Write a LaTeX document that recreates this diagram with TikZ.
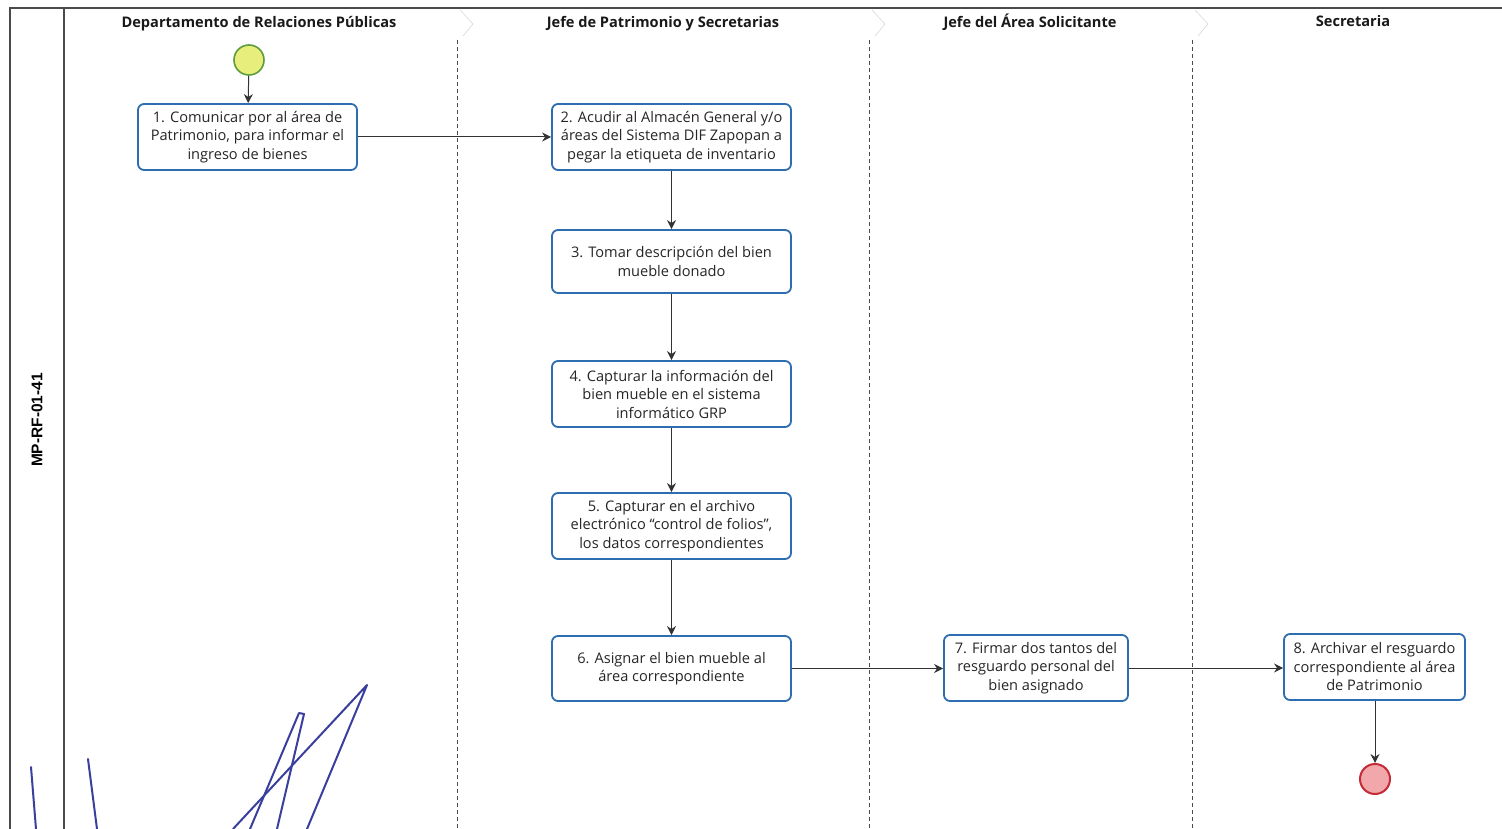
\documentclass[tikz,border=0pt]{standalone}
\usepackage{fontspec}
\setmainfont{Open Sans}
\newfontfamily\labelfont{Liberation Sans}
\usetikzlibrary{arrows.meta}
\definecolor{boxblue}{HTML}{2E6DB0}
\definecolor{flowgray}{HTML}{333333}
\definecolor{startfill}{HTML}{E8EE7C}
\definecolor{startedge}{HTML}{5E9E3A}
\definecolor{endfill}{HTML}{F2A7AA}
\definecolor{endedge}{HTML}{C42B36}
\definecolor{inkblue}{HTML}{3A3F9E}
\definecolor{framegray}{HTML}{4A4A4A}
\tikzset{
  x=1pt, y=-1pt,
  task/.style={draw=boxblue, line width=1.8pt, rounded corners=6pt, fill=white,
    align=center, inner sep=0pt, font=\fontsize{14.6}{18.5}\selectfont, text=black!85},
  lanehead/.style={font=\bfseries\fontsize{14.6}{17}\selectfont, text=black!90},
  flow/.style={draw=flowgray, line width=1pt, -{Stealth[length=9pt,width=9pt]}},
  divider/.style={draw=framegray, line width=0.9pt, dash pattern=on 4pt off 3pt},
  chevron/.style={draw=black!15, line width=0.6pt},
  ink/.style={draw=inkblue, line width=2pt, line cap=round, line join=round},
}
\begin{document}
\begin{tikzpicture}
\useasboundingbox (0,0) rectangle (1502,829);
\fill[white] (0,0) rectangle (1502,829);

% frame of the pool
\draw[framegray, line width=1.1pt] (10,829) -- (10,8) -- (1502,8);
\draw[framegray, line width=1.1pt] (64,8) -- (64,829);
\node[rotate=90, font=\labelfont\bfseries\fontsize{15.5}{17}\selectfont] (poolname) at (37,420) {MP-RF-01-41};

% lane headers
\node[lanehead] (h1) at (259,24) {Departamento de Relaciones Públicas};
\node[lanehead] (h2) at (663,24) {Jefe de Patrimonio y Secretarias};
\node[lanehead] (h3) at (1030,22) {Jefe del Área Solicitante};
\node[lanehead] (h4) at (1353,21) {Secretaria};

% lane dividers
\foreach \lx in {457,869,1192}{
  \draw[divider] (\lx,40) -- (\lx,829);
  \draw[chevron] (\lx+3,10) -- (\lx+16,24) -- (\lx+6,36);
}

% events
\node[circle, draw=startedge, fill=startfill, line width=1.6pt, minimum size=30pt, inner sep=0pt] (start) at (249,60) {};
\node[circle, draw=endedge, fill=endfill, line width=2pt, minimum size=30pt, inner sep=0pt] (end) at (1375,779) {};

% tasks
\node[task, minimum width=219pt, minimum height=66pt] (t1) at (247.5,137)
  {1. Comunicar por al área de\\Patrimonio, para informar el\\ingreso de bienes};
\node[task, minimum width=239pt, minimum height=66pt] (t2) at (671.5,137)
  {2. Acudir al Almacén General y/o\\áreas del Sistema DIF Zapopan a\\pegar la etiqueta de inventario};
\node[task, minimum width=239pt, minimum height=63pt] (t3) at (671.5,261.5)
  {3. Tomar descripción del bien\\mueble donado};
\node[task, minimum width=239pt, minimum height=66pt] (t4) at (671.5,394)
  {4. Capturar la información del\\bien mueble en el sistema\\informático GRP};
\node[task, minimum width=239pt, minimum height=66pt] (t5) at (671.5,526)
  {5. Capturar en el archivo\\electrónico “control de folios”,\\los datos correspondientes};
\node[task, minimum width=239pt, minimum height=65pt] (t6) at (671.5,668.5)
  {6. Asignar el bien mueble al\\área correspondiente};
\node[task, minimum width=184pt, minimum height=66pt] (t7) at (1036,668)
  {7. Firmar dos tantos del\\resguardo personal del\\bien asignado};
\node[task, minimum width=181pt, minimum height=66pt] (t8) at (1374.5,667)
  {8. Archivar el resguardo\\correspondiente al área\\de Patrimonio};

% sequence flows
\draw[flow] (start) -- (t1);
\draw[flow] (t1) -- (t2);
\draw[flow] (t2) -- (t3);
\draw[flow] (t3) -- (t4);
\draw[flow] (t4) -- (t5);
\draw[flow] (t5) -- (t6);
\draw[flow] (t6.east) -- (t6.east -| t7.west);
\draw[flow] (t7.east) -- (t7.east -| t8.west);
\draw[flow] (t8.south -| end) -- (end);

% handwritten signature strokes
\draw[ink] (31,767) -- (36,829);
\draw[ink] (88,759) -- (97,829);
\draw[ink] (233,829) -- (367,685) -- (307,829);
\draw[ink] (250,829) -- (299,713) -- (304,714) -- (277,829);
\end{tikzpicture}
\end{document}
